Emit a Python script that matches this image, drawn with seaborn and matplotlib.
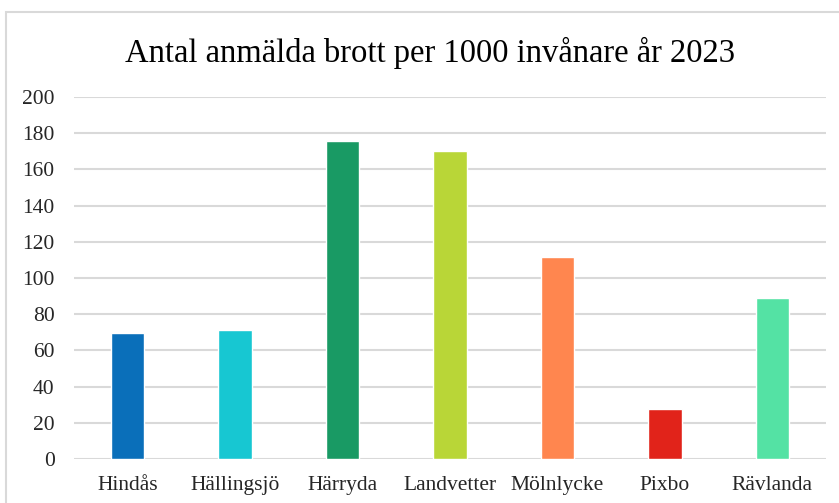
import pandas as pd
import matplotlib.pyplot as plt
from matplotlib.patches import Rectangle
import seaborn as sns

# Data
orter = ['Hindås', 'Hällingsjö', 'Härryda', 'Landvetter', 'Mölnlycke', 'Pixbo', 'Rävlanda']
brott = [69.5, 71.3, 175.7, 170.2, 111.8, 27.5, 88.8]
farger = ['#0A6FBA', '#17C7D2', '#199A64', '#B9D637', '#FF864F', '#E1231A', '#54E2A4']
yticks = [0, 20, 40, 60, 80, 100, 120, 140, 160, 180, 200]


def main():
    sns.set_theme(style='white')
    plt.rcParams['font.family'] = ['Liberation Serif', 'DejaVu Serif']

    df = pd.DataFrame({'ort': orter, 'brott': brott})

    fig = plt.figure(figsize=(8.39, 5.03), dpi=100)
    ax = fig.add_axes([0.0882, 0.0875, 0.8963, 0.7195])

    sns.barplot(data=df, x='ort', y='brott', hue='ort', palette=farger,
                legend=False, width=0.31, saturation=1, ax=ax, zorder=3)

    ax.set_ylim(0, 200)
    ax.set_xlim(-0.5, len(orter) - 0.5)
    ax.set_yticks(yticks)
    ax.yaxis.grid(True, color='#D9D9D9', linewidth=1.5, zorder=0)
    ax.set_axisbelow(True)
    for s in ax.spines.values():
        s.set_visible(False)
    ax.set_xlabel('')
    ax.set_ylabel('')
    ax.tick_params(axis='y', length=0, pad=14, labelsize=15.5, labelcolor='#262626')
    ax.tick_params(axis='x', length=0, pad=12, labelsize=15.5, labelcolor='#262626')

    fig.text(0.512, 0.895, 'Antal anmälda brott per 1000 invånare år 2023',
             ha='center', va='center', fontsize=23.5, color='black')

    # chart area border
    fig.patches.append(Rectangle((6 / 839, -0.05), 1.0, 1.0 - 12 / 503 + 0.05,
                                 transform=fig.transFigure, fill=False,
                                 edgecolor='#D9D9D9', linewidth=1.5))

    fig.savefig('out.png', dpi=100)


if __name__ == '__main__':
    main()
